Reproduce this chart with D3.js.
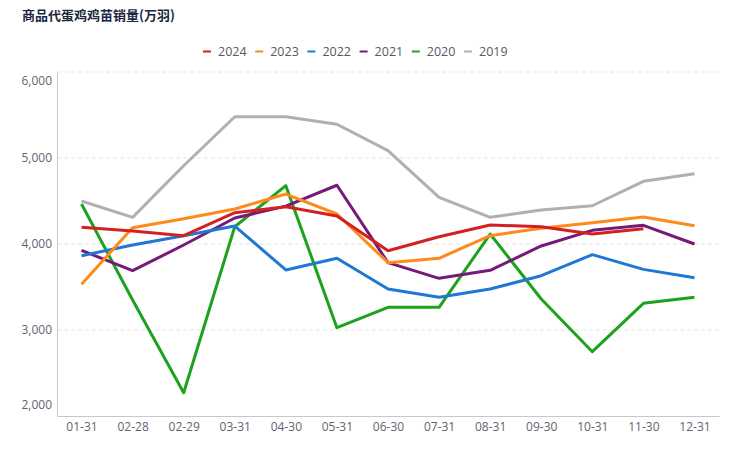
<!DOCTYPE html>
<html>
<head>
<meta charset="utf-8">
<script src="https://cdn.jsdelivr.net/npm/d3@7"></script>
<style>
  body { margin: 0; background: #fff; font-family: "Noto Sans CJK SC", "Open Sans", sans-serif; }
  .axis text { fill: #5f6470; font-size: 12px; font-family: "Open Sans", "Noto Sans", sans-serif; }
</style>
</head>
<body>
<div id="chart"></div>
<script>
const categories = ['01-31', '02-28', '02-29', '03-31', '04-30', '05-31', '06-30', '07-31', '08-31', '09-30', '10-31', '11-30', '12-31']
const yTicks = [2000, 3000, 4000, 5000, 6000]

const years = ['2024', '2023', '2022', '2021', '2020', '2019']
const colors = ['#d42020', '#ff8a1c', '#1f78d4', '#761a7a', '#1ca21c', '#b0afb6']

const v2024 = [4194, 4151, 4097, 4364, 4434, 4326, 3922, 4085, 4221, 4201, 4116, 4178, null]
const v2023 = [3531, 4190, 4294, 4407, 4581, 4349, 3783, 3834, 4097, 4183, 4248, 4314, 4213]
const v2022 = [3864, 3988, 4097, 4209, 3698, 3834, 3477, 3380, 3477, 3631, 3876, 3705, 3608]
const v2021 = [3926, 3690, 3988, 4302, 4440, 4683, 3783, 3601, 3694, 3977, 4159, 4217, 4000]
const v2020 = [4465, 3349, 2271, 4201, 4678, 3027, 3264, 3264, 4116, 3360, 2748, 3310, 3380]
const v2019 = [4500, 4310, 4910, 5480, 5480, 5392, 5085, 4543, 4310, 4395, 4445, 4729, 4817]

const seriesValues = [v2024, v2023, v2022, v2021, v2020, v2019]

const dimensions = {
  width: 742,
  height: 454,
  margins: { top: 72, right: 23, bottom: 38, left: 57 },
}
dimensions.ctrWidth = dimensions.width - dimensions.margins.left - dimensions.margins.right
dimensions.ctrHeight = dimensions.height - dimensions.margins.top - dimensions.margins.bottom

const svg = d3.select('#chart')
  .append('svg')
  .attr('width', dimensions.width)
  .attr('height', dimensions.height)

// title
svg.append('text')
  .attr('x', 22)
  .attr('y', 20)
  .attr('fill', '#1d2740')
  .style('font-size', '13px')
  .style('font-weight', 'bold')
  .style('font-family', '"Noto Sans CJK SC", sans-serif')
  .text('商品代蛋鸡鸡苗销量(万羽)')

// legend
const legend = svg.append('g')
years.forEach((y, i) => {
  const lx = 203 + i * 52.2
  legend.append('line')
    .attr('x1', lx).attr('x2', lx + 8)
    .attr('y1', 51.5).attr('y2', 51.5)
    .attr('stroke', colors[i])
    .attr('stroke-width', 2)
  legend.append('text')
    .attr('x', lx + 15)
    .attr('y', 56)
    .attr('fill', '#555a66')
    .style('font-size', '12.5px')
    .style('font-family', '"Open Sans", sans-serif')
    .text(y)
})

const ctr = svg.append('g')
  .attr('transform', `translate(${dimensions.margins.left}, ${dimensions.margins.top})`)

const xScale = d3.scalePoint()
  .domain(categories)
  .range([0, dimensions.ctrWidth])
  .padding(0.48)

const yScale = d3.scaleLinear()
  .domain([2000, 6000])
  .range([dimensions.ctrHeight, 0])

// grid
ctr.append('g')
  .selectAll('line')
  .data(yTicks.filter(t => t > 2000))
  .join('line')
  .attr('x1', 0)
  .attr('x2', dimensions.ctrWidth)
  .attr('y1', d => yScale(d))
  .attr('y2', d => yScale(d))
  .attr('stroke', '#e4e4e4')
  .attr('stroke-dasharray', '4,3')

// y axis
const yAxisGroup = ctr.append('g')
  .call(d3.axisLeft(yScale).tickValues(yTicks).tickSize(0).tickPadding(5).tickFormat(d3.format(',')))
  .classed('axis', true)
yAxisGroup.select('.domain').attr('stroke', '#c8c8c8')
yAxisGroup.selectAll('.tick text')
  .attr('dy', d => d === 6000 ? '1.05em' : d === 2000 ? '-0.6em' : '0.32em')

// x axis
const xAxisGroup = ctr.append('g')
  .attr('transform', `translate(0, ${dimensions.ctrHeight})`)
  .call(d3.axisBottom(xScale).tickSize(0).tickPadding(6))
  .classed('axis', true)
xAxisGroup.select('.domain').attr('stroke', '#c8c8c8')

// lines, drawn from oldest to newest so 2024 is on top
const line = d3.line()
  .defined(d => d.v != null)
  .x(d => xScale(d.c))
  .y(d => yScale(d.v))

const order = [5, 4, 3, 2, 1, 0]
order.forEach(i => {
  const pts = categories.map((c, j) => ({ c, v: seriesValues[i][j] }))
  ctr.append('path')
    .datum(pts)
    .attr('fill', 'none')
    .attr('stroke', colors[i])
    .attr('stroke-width', 3)
    .attr('stroke-linejoin', 'round')
    .attr('d', line)
})
</script>
</body>
</html>
